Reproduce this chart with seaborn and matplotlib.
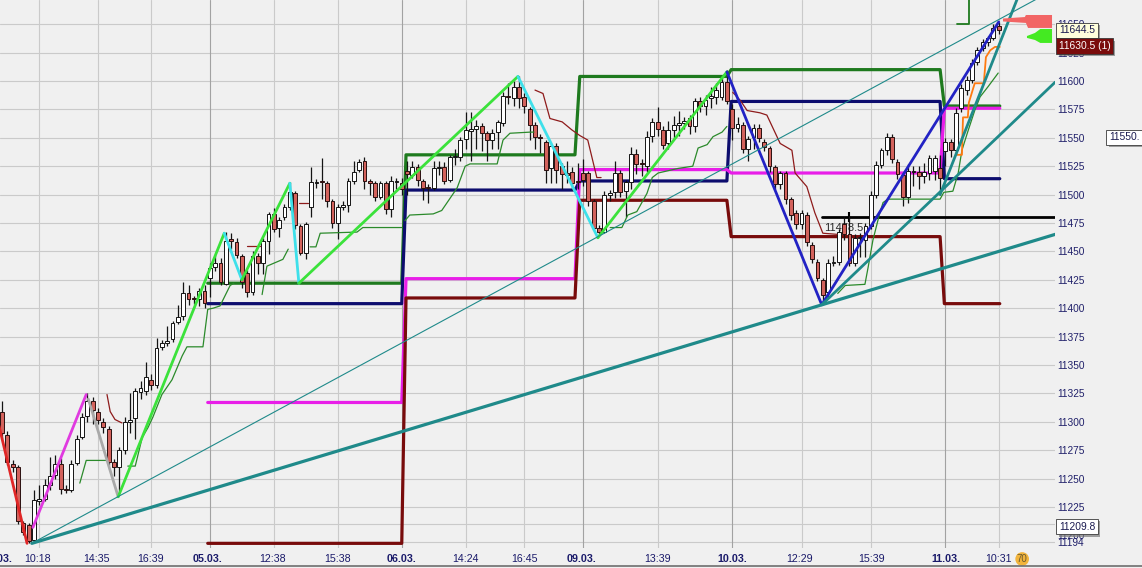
import numpy as np
import matplotlib
matplotlib.use("Agg")
import matplotlib.pyplot as plt
import matplotlib.patheffects as pe
import seaborn as sns

# 15 minute candles, x = bar number
opens = [11309, 11288, 11263, 11260, 11211, 11209, 11196, 11230, 11232, 11244,
         11253, 11263, 11241, 11240, 11264, 11287, 11305, 11318, 11309, 11300,
         11294, 11265, 11260, 11275, 11300, 11303, 11326, 11327, 11337, 11332,
         11366, 11369, 11373, 11388, 11393, 11413, 11409, 11408, 11415, 11427,
         11436, 11440, 11421, 11461, 11458, 11446, 11431, 11414, 11446, 11440,
         11459, 11483, 11471, 11480, 11489, 11501, 11472, 11449, 11489, 11510,
         11512, 11510, 11494, 11475, 11489, 11491, 11512, 11522, 11530, 11512,
         11510, 11498, 11510, 11487, 11511, 11510, 11521, 11517, 11524, 11512,
         11507, 11506, 11523, 11524, 11513, 11533, 11533, 11549, 11556, 11558,
         11560, 11554, 11548, 11555, 11563, 11587, 11585, 11595, 11586, 11575,
         11561, 11551, 11546, 11523, 11543, 11525, 11519, 11520, 11512, 11519,
         11519, 11494, 11471, 11467, 11500, 11502, 11519, 11503, 11511, 11536,
         11528, 11525, 11552, 11564, 11557, 11545, 11557, 11561, 11563, 11567,
         11560, 11582, 11578, 11585, 11586, 11586, 11599, 11575, 11559, 11561,
         11540, 11551, 11559, 11546, 11541, 11524, 11509, 11519, 11496, 11484,
         11474, 11482, 11456, 11441, 11425, 11414, 11440, 11441, 11474, 11465,
         11440, 11462, 11460, 11472, 11500, 11526, 11539, 11551, 11529, 11517,
         11498, 11520, 11520, 11516, 11519, 11521, 11523, 11538, 11546, 11539,
         11576, 11592, 11601, 11617, 11629, 11634, 11638, 11648]
closes = [11290, 11265, 11260, 11213, 11203, 11195, 11231, 11232, 11244, 11252,
          11263, 11241, 11240, 11263, 11285, 11304, 11318, 11310, 11302, 11295,
          11265, 11260, 11275, 11300, 11302, 11327, 11330, 11339, 11332, 11365,
          11369, 11371, 11387, 11392, 11413, 11408, 11408, 11415, 11405, 11435,
          11440, 11423, 11459, 11459, 11447, 11423, 11414, 11446, 11440, 11459,
          11483, 11470, 11478, 11489, 11502, 11473, 11449, 11474, 11511, 11511,
          11511, 11494, 11475, 11489, 11491, 11512, 11520, 11529, 11512, 11510,
          11498, 11510, 11487, 11512, 11512, 11505, 11518, 11524, 11513, 11506,
          11506, 11523, 11524, 11512, 11533, 11534, 11548, 11557, 11558, 11560,
          11554, 11548, 11554, 11564, 11587, 11586, 11595, 11585, 11578, 11561,
          11551, 11550, 11522, 11543, 11522, 11518, 11517, 11510, 11511, 11513,
          11494, 11471, 11467, 11500, 11501, 11519, 11502, 11511, 11536, 11527,
          11527, 11551, 11564, 11558, 11544, 11557, 11561, 11563, 11565, 11560,
          11582, 11578, 11583, 11587, 11592, 11599, 11582, 11559, 11562, 11540,
          11549, 11559, 11550, 11542, 11525, 11509, 11519, 11496, 11482, 11474,
          11484, 11458, 11443, 11427, 11412, 11440, 11441, 11467, 11465, 11440,
          11462, 11463, 11472, 11500, 11526, 11539, 11551, 11531, 11518, 11498,
          11521, 11521, 11516, 11520, 11532, 11532, 11515, 11546, 11539, 11572,
          11594, 11601, 11616, 11627, 11634, 11638, 11647, 11645]
highs = [11318, 11292, 11266, 11262, 11213, 11211, 11240, 11244, 11250, 11269,
         11271, 11268, 11244, 11266, 11288, 11308, 11325, 11322, 11312, 11303,
         11296, 11267, 11278, 11304, 11325, 11330, 11336, 11353, 11342, 11374,
         11372, 11384, 11389, 11403, 11423, 11420, 11411, 11418, 11420, 11440,
         11447, 11444, 11467, 11466, 11462, 11448, 11434, 11450, 11449, 11462,
         11485, 11488, 11480, 11492, 11511, 11503, 11474, 11476, 11524, 11514,
         11532, 11512, 11496, 11492, 11494, 11515, 11530, 11531, 11533, 11514,
         11512, 11512, 11512, 11516, 11515, 11515, 11530, 11530, 11527, 11514,
         11509, 11530, 11530, 11529, 11535, 11540, 11551, 11573, 11573, 11566,
         11563, 11556, 11558, 11566, 11590, 11598, 11600, 11604, 11589, 11577,
         11564, 11553, 11548, 11545, 11545, 11528, 11530, 11524, 11528, 11531,
         11521, 11496, 11473, 11503, 11504, 11530, 11522, 11513, 11542, 11540,
         11531, 11556, 11567, 11577, 11560, 11565, 11569, 11574, 11568, 11570,
         11585, 11586, 11588, 11595, 11598, 11603, 11610, 11580, 11568, 11564,
         11552, 11562, 11562, 11549, 11543, 11526, 11521, 11521, 11498, 11486,
         11486, 11485, 11458, 11443, 11427, 11443, 11446, 11470, 11480, 11481,
         11465, 11466, 11475, 11503, 11530, 11541, 11554, 11553, 11531, 11519,
         11527, 11525, 11525, 11528, 11535, 11535, 11535, 11550, 11549, 11576,
         11597, 11604, 11619, 11630, 11637, 11640, 11650, 11652]
lows = [11285, 11262, 11256, 11210, 11200, 11193, 11194, 11227, 11230, 11240,
        11250, 11236, 11237, 11238, 11262, 11285, 11300, 11298, 11298, 11290,
        11262, 11252, 11236, 11272, 11290, 11285, 11320, 11324, 11328, 11330,
        11363, 11367, 11370, 11386, 11390, 11403, 11404, 11402, 11400, 11410,
        11433, 11420, 11420, 11452, 11444, 11418, 11410, 11412, 11430, 11430,
        11448, 11467, 11463, 11478, 11486, 11470, 11447, 11443, 11480, 11506,
        11496, 11489, 11471, 11461, 11486, 11485, 11509, 11520, 11505, 11500,
        11494, 11496, 11483, 11480, 11505, 11500, 11500, 11515, 11508, 11495,
        11493, 11504, 11517, 11509, 11511, 11526, 11530, 11540, 11530, 11540,
        11538, 11530, 11540, 11540, 11560, 11580, 11578, 11576, 11572, 11548,
        11540, 11537, 11510, 11510, 11510, 11505, 11510, 11504, 11505, 11508,
        11490, 11469, 11464, 11466, 11494, 11497, 11498, 11480, 11505, 11518,
        11516, 11520, 11546, 11552, 11540, 11540, 11550, 11552, 11558, 11553,
        11555, 11573, 11570, 11576, 11580, 11583, 11580, 11548, 11555, 11537,
        11530, 11540, 11546, 11538, 11520, 11505, 11505, 11492, 11478, 11470,
        11470, 11455, 11440, 11424, 11403, 11410, 11437, 11438, 11460, 11437,
        11437, 11445, 11445, 11470, 11497, 11523, 11535, 11528, 11514, 11490,
        11493, 11508, 11505, 11510, 11513, 11513, 11500, 11525, 11533, 11536,
        11573, 11588, 11598, 11614, 11626, 11631, 11636, 11641]

# time axis labels (bar number where they sit)
tick_idx = [-0.9, 6.7, 17.8, 27.8, 38.6, 50.8, 62.9, 75.0, 87.0, 98.0,
            108.8, 122.9, 137.0, 149.7, 163.2, 177.1, 187.0]
tick_lab = ["04.03.", "10:18", "14:35", "16:39", "05.03.", "12:38", "15:38", "06.03.",
            "14:24", "16:45", "09.03.", "13:39", "10.03.", "12:29", "15:39", "11.03.", "10:31"]
price_ticks = [11194, 11200] + list(range(11225, 11651, 25))

# daily levels (step lines)
lvl_x = [38.6, 75.0, 75.8, 107.5, 108.4, 136.0, 136.8, 176.0, 176.8, 187.2]
green_lvl = [11422, 11422, 11535, 11535, 11604, 11604, 11610, 11610, 11578, 11578]
navy_lvl = [11404, 11404, 11504, 11504, 11512, 11512, 11582, 11582, 11514, 11514]
magenta_lvl = [11317, 11317, 11426, 11426, 11522, 11522, 11519, 11519, 11576, 11576]
maroon_lvl = [11193, 11193, 11409, 11409, 11495, 11495, 11463, 11463, 11404, 11404]

# swing legs: colour, start bar, start price, end bar, end price
legs = [("#e02626", -1.0, 11305, 4.7, 11193),
        ("#e03ae0", 5.8, 11207, 15.8, 11324),
        ("#a9a9a9", 16.2, 11320, 21.8, 11234),
        ("#3be23b", 21.8, 11234, 41.7, 11466),
        ("#3ee0ea", 41.7, 11466, 45.0, 11425),
        ("#3be23b", 45.0, 11425, 54.0, 11510),
        ("#3ee0ea", 54.0, 11510, 55.7, 11422),
        ("#3be23b", 55.7, 11422, 96.8, 11604),
        ("#3ee0ea", 96.8, 11604, 111.8, 11462),
        ("#3be23b", 111.8, 11462, 136.0, 11608),
        ("#2222c4", 136.0, 11608, 153.8, 11403),
        ("#2222c4", 153.8, 11403, 187.0, 11652)]

# trend lines: start bar, start price, end bar, end price, width
trends = [(5.6, 11193, 197.6, 11465, 2.3),
          (5.6, 11193, 197.6, 11681, 0.8),
          (153.8, 11403, 197.6, 11599, 2.0),
          (176.0, 11500, 197.6, 11757, 2.0)]

# thin trailing lines
red_trail = [
    ([19.7, 20.3, 21.2, 22.5], [11324, 11309, 11302, 11299]),
    ([46.0, 48.4], [11455, 11455]),
    ([55.7, 57.4], [11493, 11493]),
    ([100.0, 101.5, 102.8, 105.1, 106.9, 108.4, 109.9, 111.6, 112.4],
     [11592, 11589, 11567, 11564, 11557, 11552, 11548, 11515, 11515]),
    ([137.1, 138.5, 139.8, 142.2, 143.5, 146.0, 148.2, 148.8, 151.0, 152.5, 154.0, 156.7],
     [11590, 11583, 11574, 11572, 11570, 11545, 11539, 11519, 11507, 11484, 11466, 11465]),
]
green_trail = [
    ([14.6, 15.8, 19.5], [11246, 11266, 11266]),
    ([23.6, 25.0, 26.3, 27.4, 28.3, 30.0, 31.9, 33.8, 34.7, 37.7, 38.6, 39.6, 40.9, 42.8, 43.5],
     [11261, 11261, 11286, 11295, 11304, 11324, 11337, 11358, 11366, 11366, 11399, 11400, 11402, 11420, 11422]),
    ([48.8, 49.7, 52.7, 53.7], [11412, 11437, 11443, 11452]),
    ([57.8, 58.9, 59.7, 66.6, 67.7, 75.0], [11454, 11454, 11466, 11467, 11471, 11471]),
    ([75.6, 76.5, 80.9, 82.5, 84.1, 85.4, 86.9, 87.8, 92.9, 94.0, 95.3, 99.1, 99.8],
     [11477, 11482, 11483, 11486, 11497, 11506, 11525, 11527, 11527, 11548, 11554, 11555, 11555]),
    ([114.1, 116.3, 117.4, 119.1, 121.0, 122.0, 123.1, 126.8, 129.6, 130.6, 132.3, 133.4, 135.1, 136.0],
     [11471, 11471, 11482, 11485, 11501, 11515, 11519, 11523, 11525, 11541, 11544, 11551, 11555, 11560]),
    ([156.8, 158.2, 161.9, 162.5, 163.4, 164.7, 165.3, 166.2, 176.0, 176.7, 178.4, 179.4, 180.1,
      181.1, 182.5, 183.5, 185.0, 186.9],
     [11413, 11420, 11421, 11436, 11460, 11484, 11493, 11496, 11496, 11502, 11503, 11519, 11539,
      11554, 11574, 11586, 11595, 11607]),
]
orange_x = [179.2, 180.1, 180.3, 181.2, 181.4, 182.5, 184.2, 184.6, 185.4, 186.3, 187.2]
orange_p = [11535, 11535, 11568, 11568, 11581, 11598, 11598, 11621, 11627, 11630, 11630]

# order book flags at the right edge
sell_flag_x = [187.8, 191.9, 192.1, 197.0, 197.0, 192.5, 192.1, 187.8]
sell_flag_p = [11655.0, 11656.3, 11658.1, 11658.1, 11646.7, 11646.7, 11651.1, 11652.4]
buy_flag_x = [192.3, 193.8, 194.8, 197.0, 197.0, 194.8, 193.8, 192.3]
buy_flag_p = [11639.6, 11642.3, 11645.8, 11645.8, 11633.5, 11633.5, 11636.1, 11637.9]

assert len(opens) == len(closes) == len(highs) == len(lows)

sns.set_theme(style="white")
plt.rcParams["font.family"] = ["Liberation Sans", "DejaVu Sans"]

bg = "#f0f0f0"
fig = plt.figure(figsize=(11.42, 5.68), dpi=100, facecolor=bg)
ax = fig.add_axes([0, 20 / 568, 1055 / 1142, 548 / 568])
ax.set_facecolor(bg)


def line(xs, ys, color, lw, z=2.0):
    sns.lineplot(x=xs, y=ys, color=color, linewidth=lw, sort=False,
                 estimator=None, ax=ax, zorder=z)


# grid
for p in [11194, 11209.8] + list(range(11225, 11651, 25)):
    ax.axhline(p, color="#cacaca", lw=0.8, zorder=0)
for i, lab in zip(tick_idx[1:], tick_lab[1:]):
    day = lab.endswith(".")
    ax.axvline(round(i), color="#a2a2a2" if day else "#cacaca", lw=0.8, zorder=0)

# daily levels
line(lvl_x, green_lvl, "#1e7a1e", 2.3)
line(lvl_x, navy_lvl, "#0d0d6e", 2.3)
line(lvl_x, magenta_lvl, "#e81ee8", 2.3)
line(lvl_x, maroon_lvl, "#780b0b", 2.3)
line([179.2, 181.4, 181.4], [11650, 11650, 11690], "#1e7a1e", 1.3)

# black level with label
ax.text(154.3, 11471, "11478.5", fontsize=8, color="#2a2a2a", va="center", ha="left", zorder=2.5)
line([153.8, 197.6], [11480.5, 11480.5], "#000000", 2.0, z=2.6)
ax.vlines(159, 11476, 11485, color="#000000", lw=1.5, zorder=2.6)

# candles
o = np.array(opens, dtype=float)
c = np.array(closes, dtype=float)
idx = np.arange(len(o))
up = c >= o
bottom = np.minimum(o, c)
height = np.maximum(np.abs(c - o), 0.8)
ax.vlines(idx, lows, highs, color="#141414", lw=0.9, zorder=3)
ax.bar(idx[up], height[up], bottom=bottom[up], width=0.72, color="#ffffff",
       edgecolor="#141414", linewidth=0.7, zorder=3.2)
ax.bar(idx[~up], height[~up], bottom=bottom[~up], width=0.72, color="#d3625c",
       edgecolor="#2a1010", linewidth=0.7, zorder=3.2)

# trailing lines
for xs, ys in red_trail:
    line(xs, ys, "#8e1b1b", 0.9, z=3.5)
for xs, ys in green_trail:
    line(xs, ys, "#2b8a2b", 0.9, z=3.5)
line(orange_x, orange_p, "#ff7a10", 1.3, z=3.6)

# swing legs and trend lines
for col, x0, p0, x1, p1 in legs:
    line([x0, x1], [p0, p1], col, 2.0, z=4)
for x0, p0, x1, p1, w in trends:
    line([x0, x1], [p0, p1], "#1f8a8a", w, z=4.2)

ax.fill(sell_flag_x, sell_flag_p, color="#f26565", lw=0, zorder=5)
ax.fill(buy_flag_x, buy_flag_p, color="#44ea22", lw=0, zorder=5)

ax.set_xlim(-0.375, 197.56)
ax.set_ylim(11188.9, 11671.3)
for s in ax.spines.values():
    s.set_visible(False)

# price axis on the right
ax.yaxis.tick_right()
ax.set_yticks(price_ticks)
ax.set_yticklabels([str(p) for p in price_ticks])
ax.tick_params(axis="y", length=0, pad=1.5, labelsize=7.3, labelcolor="#20206a")
ax.set_xticks([])
ax.set_xlabel("")
ax.set_ylabel("")

# time axis labels
xt = ax.get_xaxis_transform()
for i, lab in zip(tick_idx, tick_lab):
    day = lab.endswith(".")
    ax.text(i, -11 / 548, lab, transform=xt, ha="center", va="center", fontsize=7.7,
            color="#1a1a6a", fontweight="bold" if day else "normal", clip_on=False)
ax.text(191.4, -11 / 548, "70", transform=xt, ha="center", va="center", fontsize=7,
        color="#6a5a30", clip_on=False,
        bbox=dict(boxstyle="circle,pad=0.15", fc="#f2b43c", ec="none"))

# price boxes
yt = ax.get_yaxis_transform()
boxes = [(1.0038, 11644.5, "11644.5", "#ffffdc", "#1a1a50"),
         (1.0038, 11630.8, "11630.5 (1)", "#7a0c0c", "#ffffff"),
         (1.0512, 11550.3, "11550.", "#ffffff", "#1a1a50"),
         (1.0038, 11207.5, "11209.8", "#ffffff", "#1a1a50")]
for bx, by, txt, fc, tc in boxes:
    t = ax.text(bx, by, txt, transform=yt, ha="left", va="center", fontsize=7.4, color=tc,
                zorder=6, clip_on=False,
                bbox=dict(boxstyle="square,pad=0.25", fc=fc, ec="#3a3a3a", lw=0.6))
    t.get_bbox_patch().set_path_effects(
        [pe.withSimplePatchShadow(offset=(1.5, -1.5), shadow_rgbFace="#7a7a7a", alpha=0.7)])

fig.add_artist(plt.Line2D([0, 1], [2 / 568, 2 / 568], color="#6e6e6e", lw=1.2))

fig.savefig("out.png", dpi=100, facecolor=bg)
